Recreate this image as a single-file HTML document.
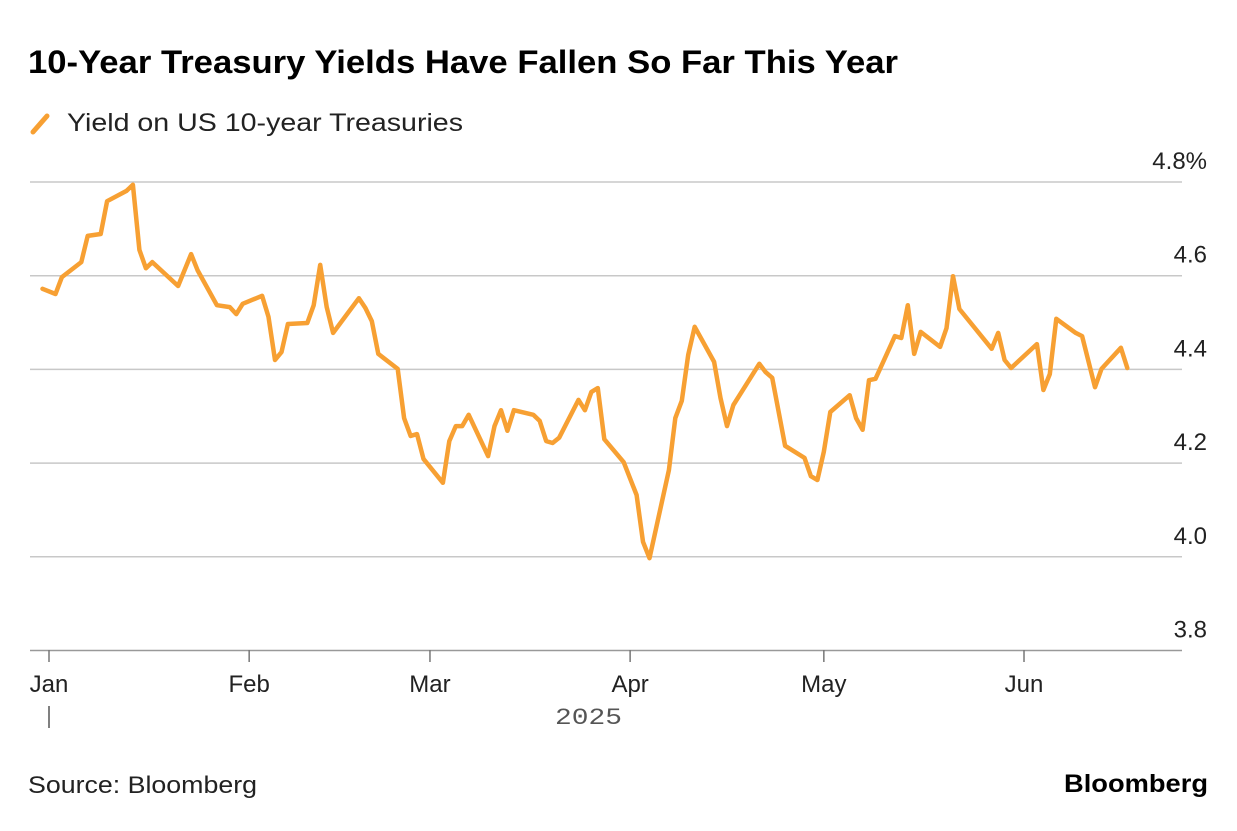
<!DOCTYPE html>
<html><head><meta charset="utf-8"><style>
body{margin:0;background:#fff;width:1237px;height:826px;overflow:hidden;font-family:"Liberation Sans",sans-serif;}
</style></head><body>
<svg width="1237" height="826" xmlns="http://www.w3.org/2000/svg">
<text x="28" y="73" font-size="32" font-weight="bold" fill="#000" textLength="870" lengthAdjust="spacingAndGlyphs">10-Year Treasury Yields Have Fallen So Far This Year</text>
<g>
<line x1="33" y1="132" x2="47" y2="116" stroke="#f7a033" stroke-width="5" stroke-linecap="round"/>
<text x="67" y="131" font-size="25" fill="#222" textLength="396" lengthAdjust="spacingAndGlyphs">Yield on US 10-year Treasuries</text>
</g>
<g id="grid"></g><g id="ylab"></g><g id="xlab"></g>
<path id="line" fill="none" stroke="#f7a033" stroke-width="4.5" stroke-linejoin="round" stroke-linecap="round"/>
<text x="555" y="724" font-size="23" fill="#555" textLength="67" lengthAdjust="spacingAndGlyphs" font-family="Liberation Mono, monospace">2025</text>
<line x1="49" y1="706" x2="49" y2="728" stroke="#555" stroke-width="1.5"/>
<text x="28" y="793" font-size="24" fill="#222" textLength="229" lengthAdjust="spacingAndGlyphs">Source: Bloomberg</text>
<text x="1064" y="792" font-size="25" font-weight="bold" fill="#000" textLength="144" lengthAdjust="spacingAndGlyphs">Bloomberg</text>
</svg>
<script>
const days=[-1,1,2,5,6,8,9,12,13,14,15,16,20,22,23,26,28,29,30,33,34,35,36,37,40,41,42,43,44,48,49,50,51,54,55,56,57,58,61,62,63,64,65,68,69,70,71,72,75,76,77,78,79,82,83,84,85,86,89,91,92,93,96,97,98,99,100,103,104,105,106,110,111,112,114,117,118,119,120,121,124,125,126,127,128,131,132,133,134,135,138,139,140,141,146,147,148,149,153,154,155,156,159,160,162,163,166,167];
const yields=[4.572,4.561,4.597,4.629,4.685,4.689,4.759,4.781,4.794,4.655,4.616,4.629,4.578,4.646,4.612,4.537,4.533,4.518,4.540,4.557,4.512,4.420,4.437,4.497,4.499,4.537,4.623,4.533,4.478,4.552,4.531,4.503,4.433,4.401,4.296,4.258,4.262,4.209,4.158,4.247,4.279,4.279,4.303,4.215,4.279,4.313,4.269,4.313,4.303,4.290,4.247,4.243,4.254,4.335,4.313,4.352,4.360,4.251,4.202,4.132,4.032,3.997,4.185,4.296,4.333,4.431,4.491,4.416,4.339,4.279,4.324,4.412,4.394,4.382,4.237,4.211,4.172,4.164,4.224,4.309,4.345,4.296,4.271,4.377,4.380,4.471,4.467,4.537,4.433,4.480,4.448,4.488,4.599,4.529,4.444,4.478,4.420,4.403,4.454,4.356,4.390,4.508,4.478,4.471,4.362,4.401,4.446,4.403];
const yTicks=[3.8,4.0,4.2,4.4,4.6,4.8];
const yTickLabels=["3.8","4.0","4.2","4.4","4.6","4.8%"];
const monthDays=[0,31,59,90,120,151];
const monthLabels=["Jan","Feb","Mar","Apr","May","Jun"];
const NS="http://www.w3.org/2000/svg";
const x=d=>49+d*6.457;
const y=v=>182+(4.8-v)/0.2*93.7;
const grid=document.getElementById('grid'),yl=document.getElementById('ylab'),xl=document.getElementById('xlab');
yTicks.forEach((t,i)=>{
 const l=document.createElementNS(NS,'line');
 l.setAttribute('x1',30);l.setAttribute('x2',1182);l.setAttribute('y1',y(t));l.setAttribute('y2',y(t));
 l.setAttribute('stroke',i==0?'#999':'#c8c8c8');l.setAttribute('stroke-width',1.5);
 
 
 grid.appendChild(l);
 const tx=document.createElementNS(NS,'text');
 tx.setAttribute('x',1207);tx.setAttribute('y',y(t)-13);tx.setAttribute('text-anchor','end');
 tx.setAttribute('font-size','24');tx.setAttribute('fill','#222');tx.textContent=yTickLabels[i];
 
 
 yl.appendChild(tx);
});
monthDays.forEach((d,i)=>{
 const l=document.createElementNS(NS,'line');
 l.setAttribute('x1',x(d));l.setAttribute('x2',x(d));l.setAttribute('y1',650);l.setAttribute('y2',662);
 l.setAttribute('stroke','#777');l.setAttribute('stroke-width',1.5);
 
 
 xl.appendChild(l);
 const tx=document.createElementNS(NS,'text');
 tx.setAttribute('x',x(d));tx.setAttribute('y',692);tx.setAttribute('text-anchor','middle');
 tx.setAttribute('font-size','24');tx.setAttribute('fill','#222');tx.textContent=monthLabels[i];
 
 
 xl.appendChild(tx);
});
document.getElementById('line').setAttribute('d',days.map((d,i)=>(i?'L':'M')+x(d).toFixed(1)+','+y(yields[i]).toFixed(1)).join(''));
</script>
</body></html>
